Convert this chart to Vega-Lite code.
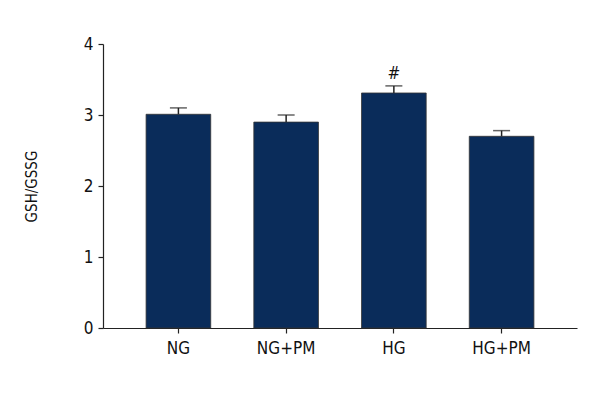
{
  "$schema": "https://vega.github.io/schema/vega-lite/v6.json",
  "autosize": "none",
  "width": 474,
  "height": 284,
  "padding": {"left": 103, "top": 44, "right": 23, "bottom": 72},
  "background": "white",
  "config": {
    "font": "DejaVu Sans Condensed, Liberation Sans, sans-serif",
    "view": {"stroke": null}
  },
  "data": {
    "values": [
      {"group": "NG", "value": 3.01, "upper": 3.10, "mark": ""},
      {"group": "NG+PM", "value": 2.90, "upper": 3.00, "mark": ""},
      {"group": "HG", "value": 3.31, "upper": 3.41, "mark": "#"},
      {"group": "HG+PM", "value": 2.70, "upper": 2.78, "mark": ""}
    ]
  },
  "encoding": {
    "x": {
      "field": "group",
      "type": "nominal",
      "sort": ["NG", "NG+PM", "HG", "HG+PM"],
      "scale": {"paddingInner": 0.4, "paddingOuter": 0.4},
      "axis": {
        "title": null,
        "labelAngle": 0,
        "labelFont": "DejaVu Sans Condensed, Liberation Sans, sans-serif",
        "labelFontSize": 17,
        "labelColor": "#111",
        "labelPadding": 7,
        "domainColor": "#222",
        "domainWidth": 1.2,
        "tickColor": "#222",
        "tickSize": 5,
        "tickWidth": 1.2
      }
    }
  },
  "layer": [
    {
      "mark": {"type": "bar", "color": "#0a2c5a", "stroke": "#333", "strokeWidth": 0.8},
      "encoding": {
        "y": {
          "field": "value",
          "type": "quantitative",
          "scale": {"domain": [0, 4]},
          "axis": {
            "title": "GSH/GSSG",
            "titleFont": "DejaVu Sans Condensed, Liberation Sans, sans-serif",
            "titleFontSize": 15,
            "titleFontWeight": "normal",
            "titleColor": "#111",
            "titlePadding": 44,
            "values": [0, 1, 2, 3, 4],
            "format": "d",
            "grid": false,
            "labelFont": "DejaVu Sans Condensed, Liberation Sans, sans-serif",
            "labelFontSize": 17,
            "labelColor": "#111",
            "labelPadding": 5,
            "domainColor": "#222",
            "domainWidth": 1.2,
            "tickColor": "#222",
            "tickSize": 5,
            "tickWidth": 1.2
          }
        }
      }
    },
    {
      "mark": {"type": "rule", "color": "#222", "strokeWidth": 1.5},
      "encoding": {
        "y": {"field": "value", "type": "quantitative"},
        "y2": {"field": "upper"}
      }
    },
    {
      "mark": {"type": "tick", "orient": "horizontal", "color": "#222", "size": 17, "thickness": 1.5},
      "encoding": {
        "y": {"field": "upper", "type": "quantitative"}
      }
    },
    {
      "mark": {"type": "text", "fontSize": 17, "color": "#111", "baseline": "bottom", "dy": -3, "font": "DejaVu Sans Condensed, Liberation Sans, sans-serif"},
      "encoding": {
        "y": {"field": "upper", "type": "quantitative"},
        "text": {"field": "mark"}
      }
    }
  ]
}
